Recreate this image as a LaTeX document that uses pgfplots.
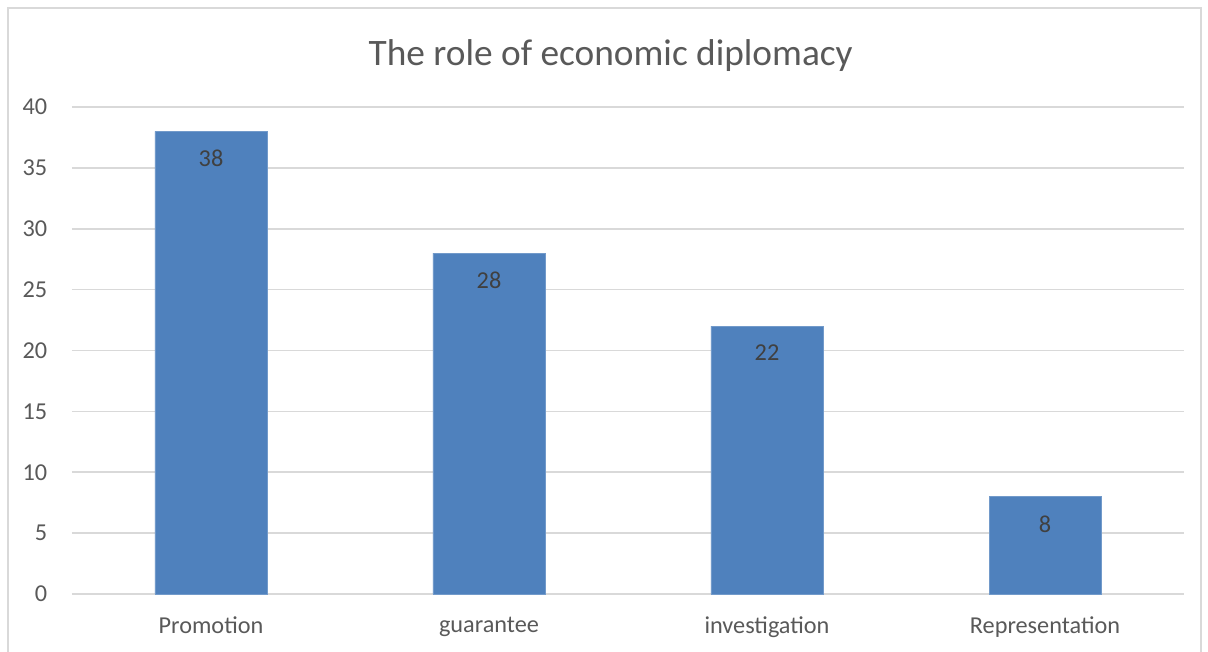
\documentclass[border=0pt]{standalone}
\usepackage{fontspec}
\setmainfont{Carlito}
\usepackage{pgfplots}
\pgfplotsset{compat=1.18}
\definecolor{barblue}{HTML}{4F81BD}
\definecolor{txt}{HTML}{595959}
\definecolor{lbl}{HTML}{404040}
\definecolor{gridc}{HTML}{D9D9D9}
\begin{document}
\begin{tikzpicture}
\begin{axis}[
  at={(0,0)}, anchor=south west,
  scale only axis,
  width=834pt, height=365.25pt,
  xmin=-0.5, xmax=3.5,
  ymin=0, ymax=40,
  ytick={0,5,...,40},
  xtick=data,
  xticklabels={Promotion,guarantee,investigation,Representation},
  axis line style={draw=none},
  major tick length=0pt,
  ymajorgrids,
  grid style={gridc, line width=1.2pt},
  ticklabel style={font=\fontsize{18.2}{21}\selectfont, text=txt},
  /pgf/number format/assume math mode=true,
  yticklabel style={xshift=-15pt},
  xticklabel style={yshift=-13.5pt},
  ybar, bar width=84pt,
  nodes near coords,
  every node near coord/.append style={anchor=north, inner sep=0pt, yshift=-14pt, font=\fontsize{18.2}{21}\selectfont, text=lbl},
]
\addplot[fill=barblue, draw=barblue!80!white] coordinates {(0,38) (1,28) (2,22) (3,8)};
\end{axis}
\node[font=\fontsize{28}{33}\selectfont, text=txt] at (404pt,404pt) {The role of economic diplomacy};
\draw[gridc, line width=1.4pt] (-48pt,-50pt) -- (-48pt,439.5pt) -- (846.75pt,439.5pt) -- (846.75pt,-50pt);
\pgfresetboundingbox
\path (-54pt,-42.75pt) rectangle (852pt,445.5pt);
\end{tikzpicture}
\end{document}
